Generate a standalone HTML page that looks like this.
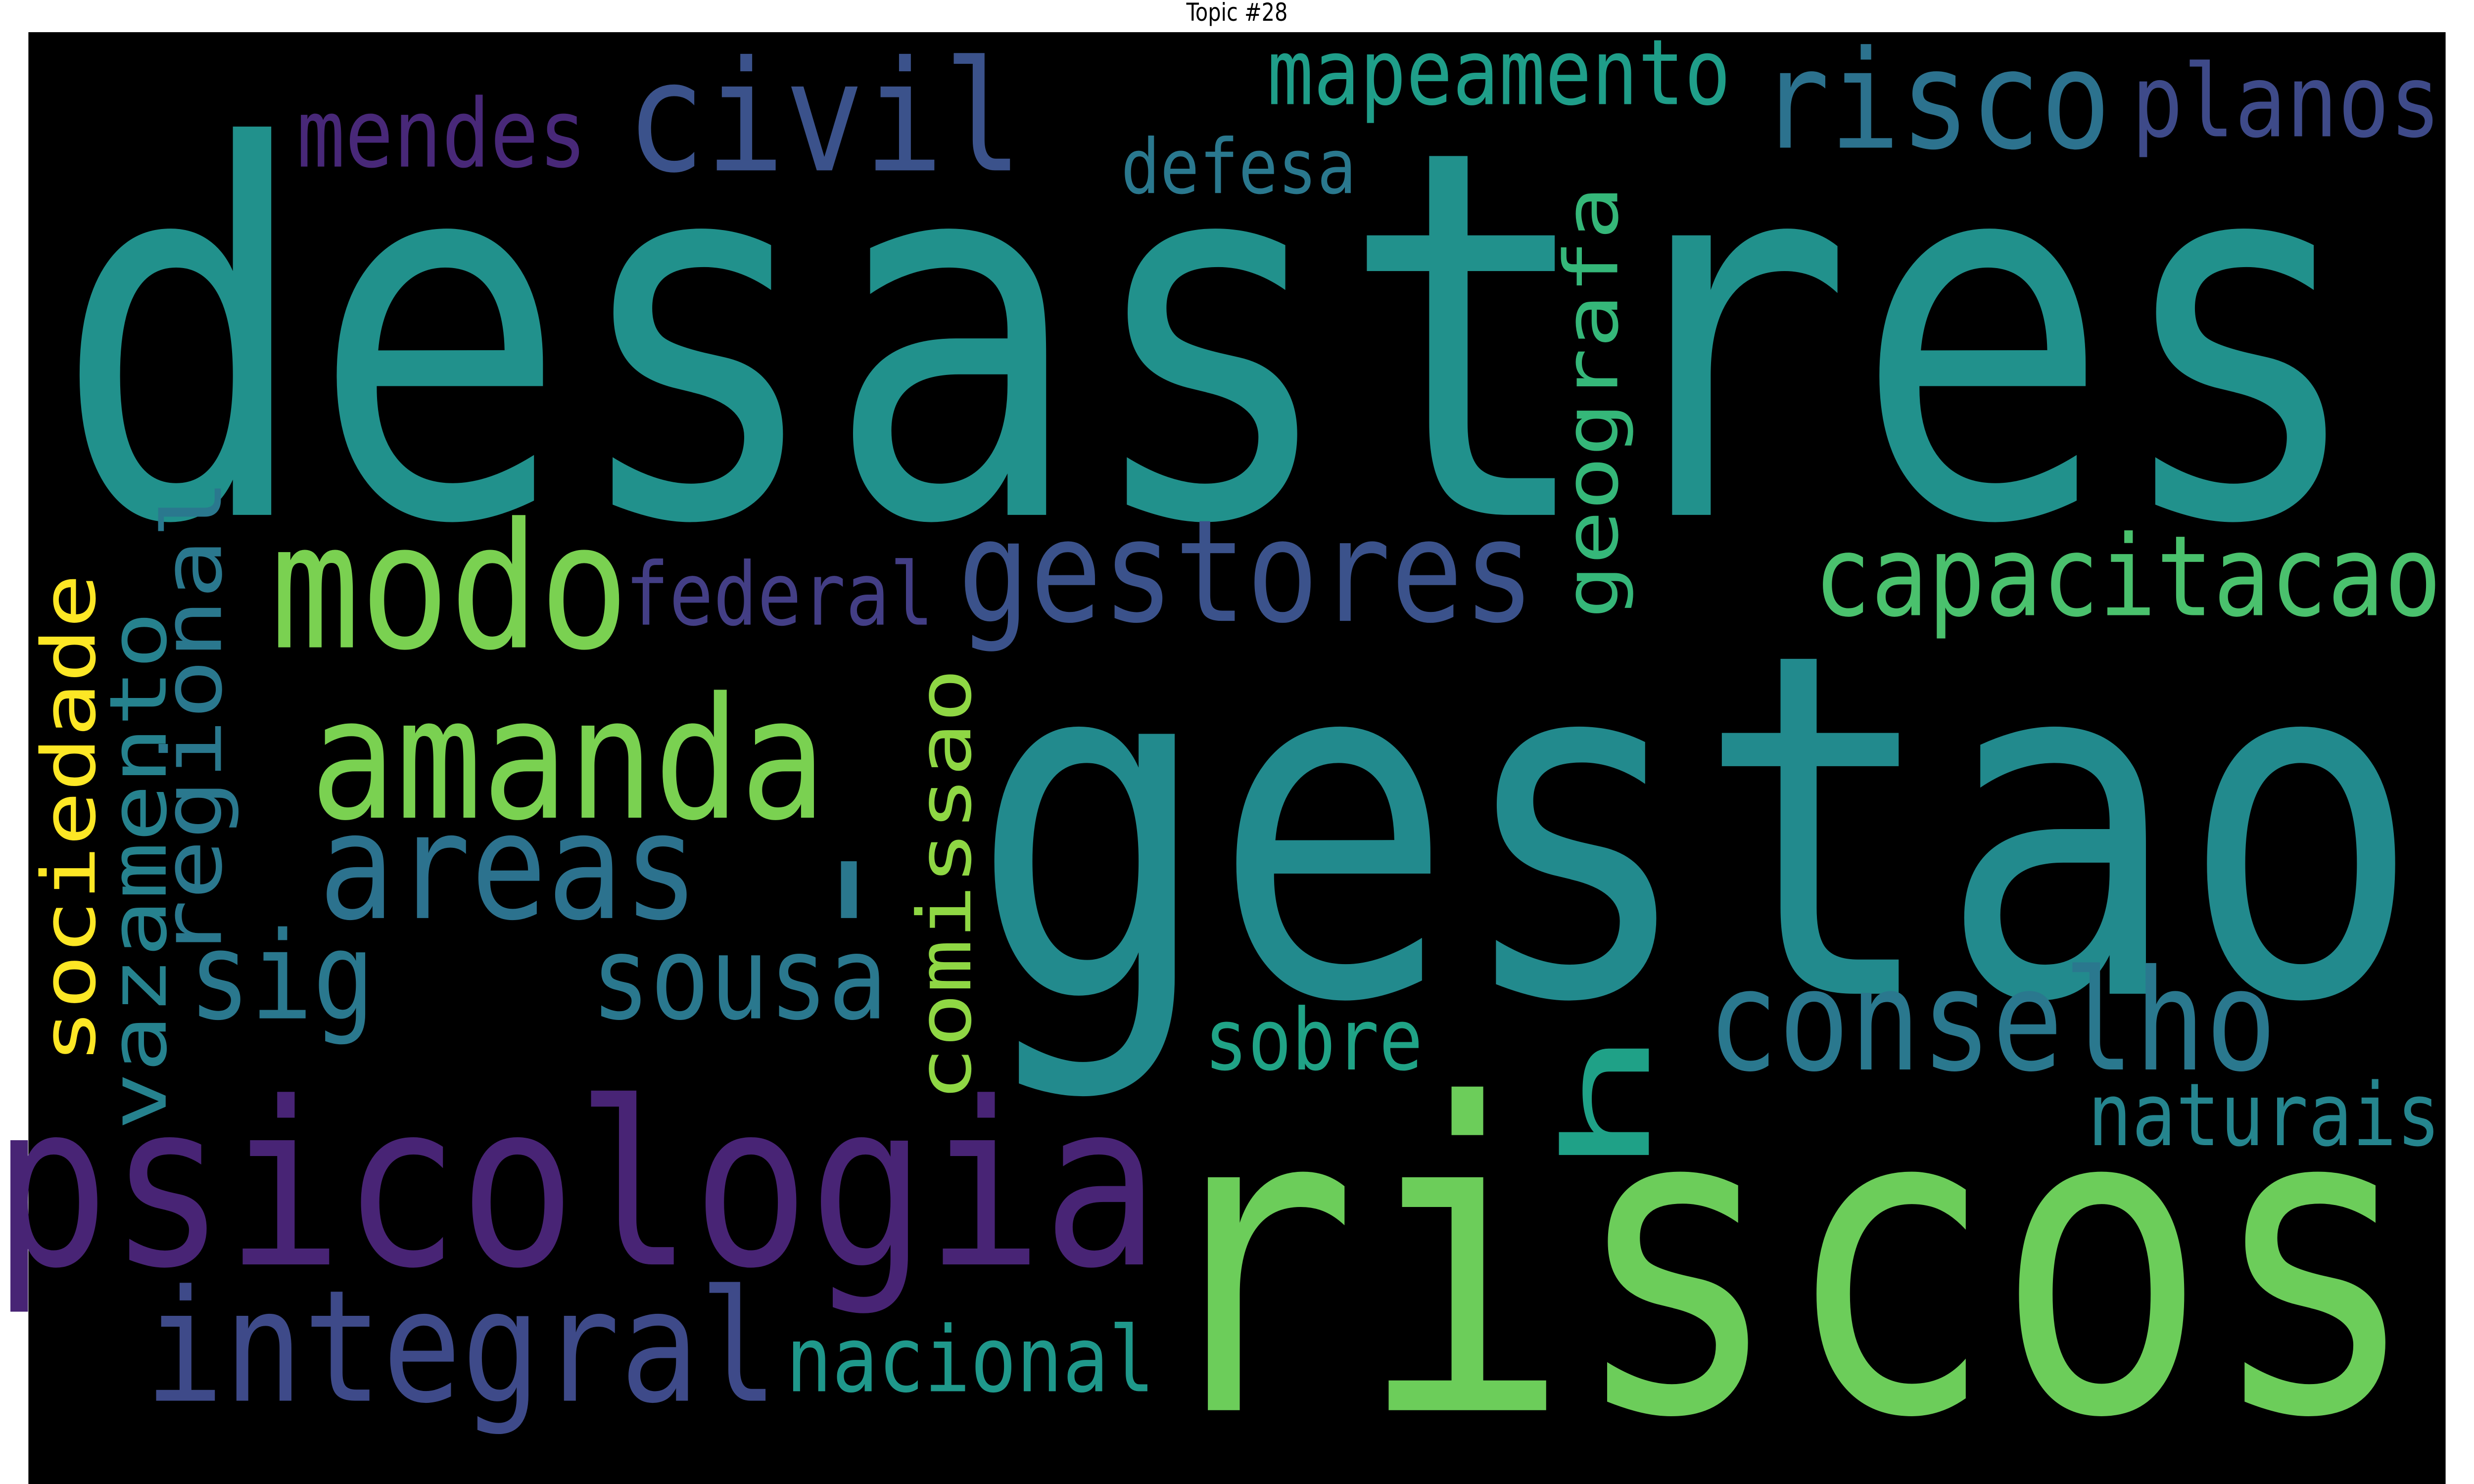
<!DOCTYPE html>
<html>
<head>
<meta charset="utf-8">
<style>
html,body{margin:0;padding:0;background:#fff;width:100%;height:100%;overflow:hidden;}
svg{display:block;position:absolute;left:0;top:0;width:100vw;height:100vh;}
text{font-family:"DejaVu Sans Mono","Liberation Mono",monospace;}
</style>
</head>
<body>
<svg viewBox="0 0 1568 784" preserveAspectRatio="none" xmlns="http://www.w3.org/2000/svg">
  <text x="784" y="11" text-anchor="middle" font-size="13" fill="#000" style="font-family:'DejaVu Sans','Liberation Sans',sans-serif">Topic #28</text>
  <rect x="18" y="17" width="1532" height="767" fill="#000"/>
  <g id="words"></g>
</svg>
<script>
const words = ["desastres","gestao","riscos","psicologia","integral","modo","amanda","areas","sig","sousa","civil","gestores","risco","mapeamento","defesa","planos","mendes","capacitacao","federal","conselho","sobre","naturais","nacional","sociedade","vazamento","regional","comissao","geografa","h"];
const sizes = [270,252,225,120,82,92,89,78,64,61,81,75,72,48,40,53,50,59,46,74,45,46,48,47,50,52,47,47,75];
const colors = ["#21918c","#228a8d","#6ccd5a","#482475","#3e4a89","#7ad151","#7ad151","#2c728e","#2a788e","#2a788e","#3b528b","#3b528b","#2c728e","#1f9e89","#2a788e","#3e4a89","#482878","#4ac16d","#433e85","#2a788e","#20a386","#25858e","#1f988b","#fde725","#26828e","#2a788e","#8fd744","#35b779","#1fa187"];
const px = [45,625,735,0,95,175,200,205,122,377,400,610,1118,805,712,1353,190,1152,398,1085,765,1325,500,60,105,140,615,1025,1045];
const py = [272,525,745,668,740,342,432,485,538,538,90,328,78,55,102,72,88,325,330,565,565,605,735,560,595,505,580,325,620];
const rot = [0,0,0,0,0,0,0,0,0,0,0,0,0,0,0,0,0,0,0,0,0,0,0,1,1,1,1,1,1];
const lens = [1445,900,790,730,395,220,320,235,113,183,245,360,217,290,146,192,180,393,192,355,135,220,230,255,270,250,225,225,75];

const g = document.getElementById('words');
const NS = "http://www.w3.org/2000/svg";
for (let i = 0; i < words.length; i++) {
  const t = document.createElementNS(NS, 'text');
  
  
  t.setAttribute('font-size', sizes[i]);
  t.setAttribute('fill', colors[i]);
  t.setAttribute('textLength', lens[i] + 0.08 * sizes[i]);
  t.setAttribute('lengthAdjust', 'spacingAndGlyphs');
  const ox = rot[i] ? px[i] : px[i] - 0.04 * sizes[i];
  const oy = rot[i] ? py[i] + 0.04 * sizes[i] : py[i];
  t.setAttribute('x', ox);
  t.setAttribute('y', oy);
  if (rot[i]) t.setAttribute('transform', 'rotate(-90 ' + ox + ' ' + oy + ')');
  t.textContent = words[i];
  g.appendChild(t);
}
const dash = document.createElementNS(NS, 'rect');


dash.setAttribute('x', 533); dash.setAttribute('y', 455);
dash.setAttribute('width', 10); dash.setAttribute('height', 30);
dash.setAttribute('fill', '#2a788e');
g.appendChild(dash);
</script>
</body>
</html>
